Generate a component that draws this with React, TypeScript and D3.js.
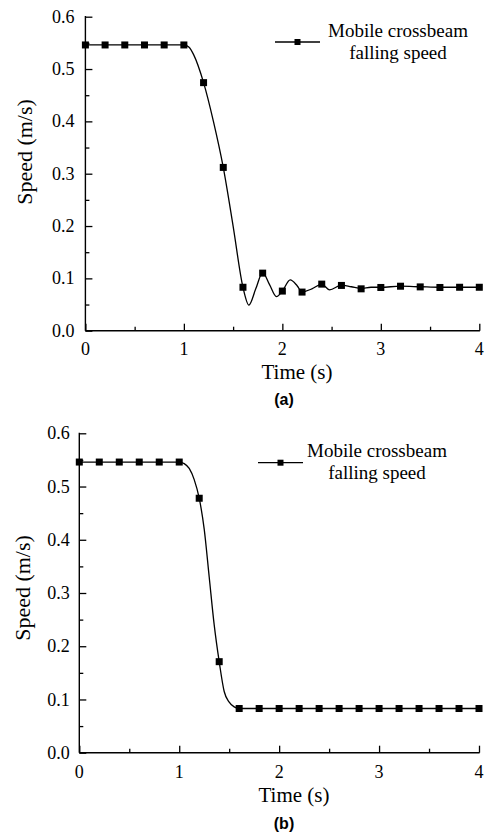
import React, { useRef, useEffect } from "react";
import * as d3 from "d3";

// marker samples (every 0.2 s)
const markerTimes = [0, 0.2, 0.4, 0.6, 0.8, 1.0, 1.2, 1.4, 1.6, 1.8, 2.0, 2.2, 2.4, 2.6, 2.8, 3.0, 3.2, 3.4, 3.6, 3.8, 4.0];
const markerSpeedA = [0.546, 0.546, 0.546, 0.546, 0.546, 0.546, 0.474, 0.312, 0.083, 0.110, 0.0757, 0.0738, 0.089, 0.0865, 0.080, 0.0826, 0.085, 0.0837, 0.0826, 0.083, 0.083];
const markerSpeedB = [0.546, 0.546, 0.546, 0.546, 0.546, 0.546, 0.478, 0.171, 0.083, 0.083, 0.083, 0.083, 0.083, 0.083, 0.083, 0.083, 0.083, 0.083, 0.083, 0.083, 0.083];

// continuous curve
const curveTimesA = [0, 1.0, 1.05, 1.1, 1.2, 1.3, 1.4, 1.5, 1.6, 1.66, 1.73, 1.8, 1.87, 1.94, 2.0, 2.08, 2.15, 2.2, 2.3, 2.4, 2.48, 2.6, 2.7, 2.8, 2.9, 3.0, 3.2, 3.4, 3.6, 3.8, 4.0];
const curveSpeedA = [0.546, 0.546, 0.542, 0.527, 0.474, 0.400, 0.312, 0.200, 0.083, 0.049, 0.080, 0.111, 0.088, 0.065, 0.0757, 0.097, 0.086, 0.074, 0.080, 0.089, 0.078, 0.087, 0.084, 0.081, 0.083, 0.083, 0.085, 0.084, 0.083, 0.083, 0.083];
const curveTimesB = [0, 1.0, 1.05, 1.1, 1.15, 1.2, 1.25, 1.3, 1.35, 1.4, 1.45, 1.5, 1.55, 1.6, 4.0];
const curveSpeedB = [0.546, 0.546, 0.543, 0.534, 0.513, 0.478, 0.42, 0.33, 0.24, 0.171, 0.115, 0.095, 0.086, 0.083, 0.083];

const xTicks = [0, 1, 2, 3, 4];
const xMinorTicks = [0.5, 1.5, 2.5, 3.5];
const yTicks = [0, 0.1, 0.2, 0.3, 0.4, 0.5, 0.6];
const yMinorTicks = [0.05, 0.15, 0.25, 0.35, 0.45, 0.55];

const legendLines = ["Mobile crossbeam", "falling speed"];
const serif = "'Liberation Serif', 'Times New Roman', serif";

type Panel = {
  left: number; right: number; top: number; bottom: number;
  curveT: number[]; curveV: number[]; markV: number[];
  tickPad: number; tickBase: number; titleBase: number; titleX: number;
  capBase: number; caption: string;
  yLabelX: number; yLabelY: number;
  legX1: number; legX2: number; legY: number; legTextX: number; legBase: number;
};

const panels: Panel[] = [
  {
    left: 85.4, right: 479.3, top: 16.7, bottom: 330.7,
    curveT: curveTimesA, curveV: curveSpeedA, markV: markerSpeedA,
    tickPad: 11, tickBase: 355, titleBase: 379, titleX: 297, capBase: 405, caption: "(a)",
    yLabelX: 32, yLabelY: 152,
    legX1: 275, legX2: 320, legY: 42, legTextX: 398, legBase: 37,
  },
  {
    left: 79.3, right: 479, top: 433.3, bottom: 752.7,
    curveT: curveTimesB, curveV: curveSpeedB, markV: markerSpeedB,
    tickPad: 9.5, tickBase: 778, titleBase: 802, titleX: 294, capBase: 829, caption: "(b)",
    yLabelX: 30, yLabelY: 588,
    legX1: 258, legX2: 303, legY: 462.7, legTextX: 377, legBase: 457,
  },
];

const App = () => {
  const svgRef = useRef<SVGSVGElement>(null);

  useEffect(() => {
    const svg = d3.select(svgRef.current);
    svg.selectAll("*").remove();

    panels.forEach((p) => {
      const x = d3.scaleLinear().domain([0, 4]).range([p.left, p.right]);
      const y = d3.scaleLinear().domain([0, 0.6]).range([p.bottom, p.top]);
      const g = svg.append("g");

      // inward ticks, labels drawn separately
      const axisStroke = (sel: any) => {
        sel.select(".domain").remove();
        sel.selectAll("line").attr("stroke", "#000").attr("stroke-width", 1.3);
        sel.selectAll("text").remove();
      };
      g.append("g").attr("transform", `translate(0,${p.bottom})`)
        .call(d3.axisBottom(x).tickValues(xTicks).tickSize(-7)).call(axisStroke);
      g.append("g").attr("transform", `translate(0,${p.bottom})`)
        .call(d3.axisBottom(x).tickValues(xMinorTicks).tickSize(-4)).call(axisStroke);
      g.append("g").attr("transform", `translate(${p.left},0)`)
        .call(d3.axisLeft(y).tickValues(yTicks).tickSize(-7)).call(axisStroke);
      g.append("g").attr("transform", `translate(${p.left},0)`)
        .call(d3.axisLeft(y).tickValues(yMinorTicks).tickSize(-4)).call(axisStroke);

      g.append("line").attr("x1", p.left).attr("x2", p.right + 0.6)
        .attr("y1", p.bottom).attr("y2", p.bottom)
        .attr("stroke", "#000").attr("stroke-width", 1.4);
      g.append("line").attr("x1", p.left).attr("x2", p.left)
        .attr("y1", p.top - 0.6).attr("y2", p.bottom)
        .attr("stroke", "#000").attr("stroke-width", 1.4);

      // tick labels
      g.selectAll(".xl").data(xTicks).enter().append("text")
        .attr("x", (d) => x(d)).attr("y", p.tickBase)
        .attr("text-anchor", "middle")
        .style("font-family", serif).style("font-size", "18px")
        .text((d) => d3.format("d")(d));
      g.selectAll(".yl").data(yTicks).enter().append("text")
        .attr("x", p.left - p.tickPad).attr("y", (d) => y(d))
        .attr("dy", "0.34em")
        .attr("text-anchor", "end")
        .style("font-family", serif).style("font-size", "18px")
        .text((d) => d3.format(".1f")(d));

      // axis titles
      g.append("text").attr("x", p.titleX).attr("y", p.titleBase)
        .attr("text-anchor", "middle")
        .style("font-family", serif).style("font-size", "21px")
        .text("Time (s)");
      g.append("text")
        .attr("transform", `translate(${p.yLabelX},${p.yLabelY}) rotate(-90)`)
        .attr("text-anchor", "middle")
        .style("font-family", serif).style("font-size", "22px")
        .text("Speed (m/s)");
      g.append("text").attr("x", 284).attr("y", p.capBase)
        .attr("text-anchor", "middle")
        .style("font-family", "'Liberation Sans', Arial, sans-serif")
        .style("font-size", "16px").style("font-weight", "bold")
        .text(p.caption);

      // curve
      const line = d3.line<number>()
        .x((d, i) => x(p.curveT[i]))
        .y((d) => y(d))
        .curve(d3.curveMonotoneX);
      g.append("path").datum(p.curveV)
        .attr("d", line)
        .attr("fill", "none").attr("stroke", "#000").attr("stroke-width", 1.3);

      // markers
      const s = 7;
      g.selectAll(".mk").data(p.markV).enter().append("rect")
        .attr("x", (d, i) => x(markerTimes[i]) - s / 2)
        .attr("y", (d) => y(d) - s / 2)
        .attr("width", s).attr("height", s)
        .attr("fill", "#000");

      // legend
      g.append("line").attr("x1", p.legX1).attr("x2", p.legX2)
        .attr("y1", p.legY).attr("y2", p.legY)
        .attr("stroke", "#000").attr("stroke-width", 1.3);
      g.append("rect").attr("x", (p.legX1 + p.legX2) / 2 - 3).attr("y", p.legY - 3)
        .attr("width", 6).attr("height", 6).attr("fill", "#000");
      legendLines.forEach((t, i) => {
        g.append("text").attr("x", p.legTextX).attr("y", p.legBase + i * 22)
          .attr("text-anchor", "middle")
          .style("font-family", serif).style("font-size", "19px")
          .text(t);
      });
    });
  }, []);

  return (
    <svg ref={svgRef} width={489} height={835}
      style={{ position: "absolute", left: 0, top: 0, background: "#fff" }} />
  );
};

export default App;
